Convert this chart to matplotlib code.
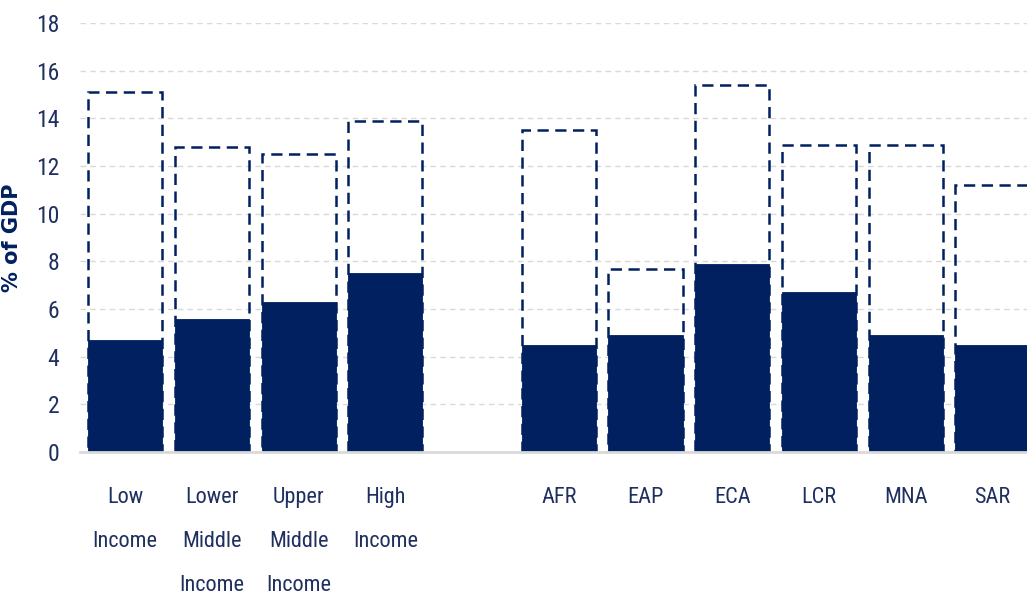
import matplotlib
matplotlib.use("Agg")
import matplotlib.pyplot as plt
from matplotlib import font_manager

# Categories: income groups, then regions (one empty slot between the groups)
income_groups = ["Low\nIncome", "Lower\nMiddle\nIncome", "Upper\nMiddle\nIncome", "High\nIncome"]
regions = ["AFR", "EAP", "ECA", "LCR", "MNA", "SAR"]

# Values in % of GDP
current_income = [4.7, 5.6, 6.3, 7.5]
potential_income = [15.1, 12.8, 12.5, 13.9]
current_region = [4.5, 4.9, 7.9, 6.7, 4.9, 4.5]
potential_region = [13.5, 7.7, 15.4, 12.9, 12.9, 11.2]

y_ticks = [0, 2, 4, 6, 8, 10, 12, 14, 16, 18]

NAVY = "#002060"
TEXT = "#1F2F5F"
GRID = "#D9D9D9"

# Prefer a condensed face for the tick labels when one is installed
available = {f.name for f in font_manager.fontManager.ttflist}
label_font, label_size, line_sp = "Liberation Sans", 14, 2.6
for name in ("Liberation Sans Narrow", "Roboto Condensed", "Open Sans Condensed",
             "DejaVu Sans Condensed"):
    if name in available:
        label_font, label_size, line_sp = name, 16, 2.45
        break

labels = income_groups + regions
current = current_income + current_region
potential = potential_income + potential_region
x = list(range(len(income_groups))) + [len(income_groups) + 1 + i for i in range(len(regions))]

fig = plt.figure(figsize=(10.27, 5.98), dpi=100)
ax = fig.add_axes([0.078, 0.244, 0.922, 0.7175])

width = 0.855
ax.bar(x, current, width=width, color=NAVY, edgecolor=NAVY, linewidth=0.6, zorder=3)
ax.bar(x, potential, width=width, fill=False, edgecolor=NAVY, linewidth=1.8,
       linestyle=(0, (4.5, 2.6)), zorder=4)

ax.set_ylim(0, 18)
ax.set_xlim(-0.52, 10.40)
ax.set_yticks(y_ticks)
ax.set_xticks(x)
ax.set_xticklabels(labels, fontfamily=label_font, fontsize=label_size, color=TEXT,
                   linespacing=line_sp, va="top")
for t in ax.get_yticklabels():
    t.set_fontfamily(label_font)
    t.set_fontsize(label_size + 1)
    t.set_color(TEXT)

ax.tick_params(axis="both", length=0)
ax.tick_params(axis="y", pad=15)
ax.tick_params(axis="x", pad=25)

ax.yaxis.grid(True, color=GRID, linestyle=(0, (4, 3)), linewidth=1.0, zorder=0)
ax.set_axisbelow(True)
for side in ("left", "right", "top"):
    ax.spines[side].set_visible(False)
ax.spines["bottom"].set_color(GRID)
ax.spines["bottom"].set_linewidth(2)
ax.spines["bottom"].set_zorder(5)

ax.set_ylabel("% of GDP", fontsize=15, fontweight="bold", color=NAVY)
ax.yaxis.set_label_coords(-0.061, 0.5)

fig.savefig("out.png", dpi=100)
